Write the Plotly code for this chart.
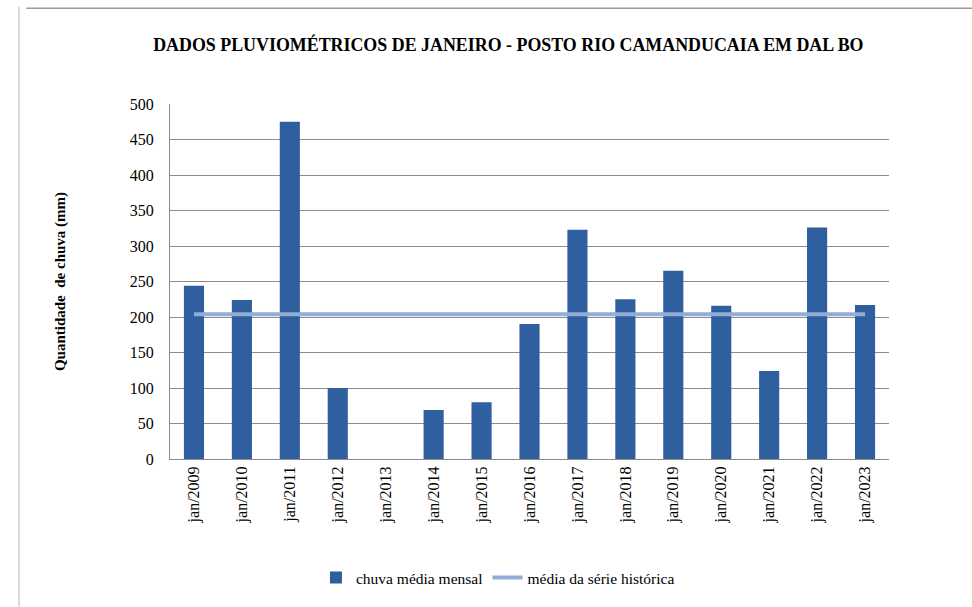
import plotly.graph_objects as go

categories = ["jan/2009", "jan/2010", "jan/2011", "jan/2012", "jan/2013", "jan/2014",
              "jan/2015", "jan/2016", "jan/2017", "jan/2018", "jan/2019", "jan/2020",
              "jan/2021", "jan/2022", "jan/2023"]
chuva = [244, 224, 475, 100, 0, 69, 80, 190, 323, 225, 265, 216, 124, 326, 217]
media_historica = [204] * len(categories)
y_ticks = [0, 50, 100, 150, 200, 250, 300, 350, 400, 450, 500]

FONT = "Times New Roman"

fig = go.Figure()
fig.add_trace(go.Bar(
    x=categories, y=chuva, name="chuva média mensal",
    marker=dict(color="#2F5F9E", line=dict(width=0)),
))
fig.add_trace(go.Scatter(
    x=categories, y=media_historica, name="média da série histórica",
    mode="lines", line=dict(color="#92ADD6", width=4),
))

fig.update_layout(
    width=972, height=607,
    paper_bgcolor="white", plot_bgcolor="white",
    margin=dict(l=170, r=83, t=104, b=148),
    font=dict(family=FONT, size=16, color="black"),
    title=dict(
        text="<b>DADOS PLUVIOMÉTRICOS DE JANEIRO - POSTO RIO CAMANDUCAIA EM DAL BO</b>",
        x=0.523, xanchor="center", y=0.927, yanchor="middle",
        font=dict(family=FONT, size=17.9, color="black"),
    ),
    bargap=0.58,
    showlegend=True,
    legend=dict(
        orientation="h", x=0.203, xanchor="left", y=-0.335, yanchor="middle",
        font=dict(family=FONT, size=15.5, color="black"),
        itemwidth=30, tracegroupgap=0,
    ),
    shapes=[
        dict(type="line", xref="paper", yref="paper", x0=-0.2, x1=1.12, y0=1.27, y1=1.27,
             line=dict(color="#9a9a9a", width=1.5)),
        dict(type="line", xref="paper", yref="paper", x0=-0.21, x1=-0.21, y0=1.275, y1=-0.42,
             line=dict(color="#d0d0d0", width=1.5)),
    ],
)
fig.update_xaxes(
    type="category", tickangle=-90, showgrid=False,
    showline=True, linecolor="#8c8c8c", linewidth=1,
    ticks="", tickfont=dict(family=FONT, size=16),
)
fig.update_yaxes(
    range=[0, 500], tickvals=y_ticks, showgrid=True, gridcolor="#8c8c8c", gridwidth=1,
    showline=True, linecolor="#8c8c8c", linewidth=1, zeroline=False,
    ticks="", tickfont=dict(family=FONT, size=16), ticklabelstandoff=12,
    title=dict(text="<b>Quantidade  de chuva (mm)</b>", font=dict(family=FONT, size=15), standoff=60),
)

fig.write_html("out.html")
